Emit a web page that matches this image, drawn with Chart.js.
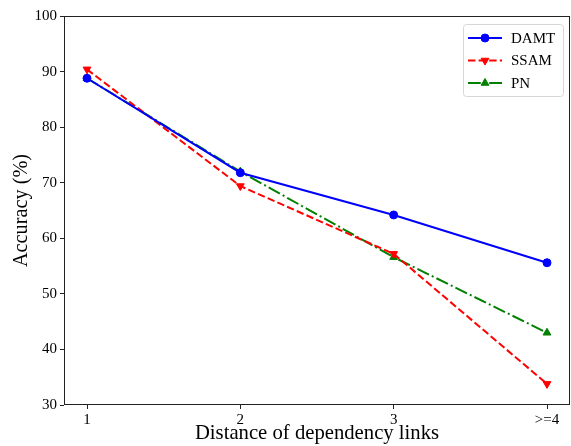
<!DOCTYPE html>
<html>
<head>
<meta charset="utf-8">
<script src="https://cdn.jsdelivr.net/npm/chart.js@4.4.0/dist/chart.umd.min.js"></script>
<style>
  html, body { margin: 0; padding: 0; background: #fff; }
  #wrap { width: 571px; height: 446px; }
</style>
</head>
<body>
<div id="wrap"><canvas id="accChart" width="571" height="446"></canvas></div>
<script>
// categorias e valores
const distLabels = ["1", "2", "3", ">=4"];
const damtAcc = [88.8, 71.8, 64.2, 55.6];
const ssamAcc = [90.4, 69.4, 57.2, 33.8];
const pnAcc = [88.8, 72.0, 56.6, 43.0];
const yTicks = [30, 40, 50, 60, 70, 80, 90, 100];

const serif = "'Liberation Serif', 'Times New Roman', serif";

function toPoints(arr) {
    return arr.map(function (v, i) { return { x: i, y: v }; });
}

// moldura e legenda no estilo matplotlib
const framePlugin = {
    id: "frame",
    afterDraw: function (chart) {
        const ctx = chart.ctx;
        const a = chart.chartArea;
        ctx.save();
        ctx.strokeStyle = "#222";
        ctx.lineWidth = 1;
        ctx.strokeRect(a.left + 0.5, a.top + 0.5, a.right - a.left - 1, a.bottom - a.top - 1);

        // legenda
        const bx = 463, by = 24, bw = 100, bh = 72;
        ctx.fillStyle = "rgba(255,255,255,0.8)";
        ctx.strokeStyle = "#d6d6d6";
        ctx.beginPath();
        ctx.roundRect(bx + 0.5, by + 0.5, bw, bh, 3);
        ctx.fill();
        ctx.stroke();
        chart.data.datasets.forEach(function (ds, i) {
            const y = by + 14 + i * 22.5;
            const x0 = bx + 5, x1 = bx + 39;
            ctx.strokeStyle = ds.borderColor;
            ctx.lineWidth = ds.borderWidth;
            ctx.setLineDash(ds.borderDash || []);
            ctx.beginPath();
            ctx.moveTo(x0, y);
            ctx.lineTo(x1, y);
            ctx.stroke();
            ctx.setLineDash([]);
            ctx.fillStyle = ds.backgroundColor;
            ctx.lineWidth = 1;
            Chart.helpers.drawPoint(ctx, {
                pointStyle: ds.pointStyle,
                radius: ds.pointRadius,
                rotation: ds.pointRotation || 0,
                borderWidth: 1
            }, (x0 + x1) / 2, y);
            ctx.fillStyle = "#000";
            ctx.font = "15px " + serif;
            ctx.textBaseline = "middle";
            ctx.textAlign = "left";
            ctx.fillText(ds.label, bx + 48, y + 1);
        });
        ctx.restore();
    }
};

new Chart(document.getElementById("accChart"), {
    type: "line",
    data: {
        datasets: [
            {
                label: "DAMT",
                data: toPoints(damtAcc),
                borderColor: "#0000ff",
                backgroundColor: "#0000ff",
                borderWidth: 2,
                pointStyle: "circle",
                pointRadius: 4,
                pointBorderWidth: 1
            },
            {
                label: "SSAM",
                data: toPoints(ssamAcc),
                borderColor: "#ff0000",
                backgroundColor: "#ff0000",
                borderWidth: 2,
                borderDash: [7.4, 3.2],
                pointStyle: "triangle",
                pointRotation: 180,
                pointRadius: 4.5,
                pointBorderWidth: 1
            },
            {
                label: "PN",
                data: toPoints(pnAcc),
                borderColor: "#008000",
                backgroundColor: "#008000",
                borderWidth: 2,
                borderDash: [12.8, 3.2, 2, 3.2],
                pointStyle: "triangle",
                pointRadius: 4.5,
                pointBorderWidth: 1
            }
        ]
    },
    options: {
        responsive: false,
        animation: false,
        layout: { autoPadding: false, padding: { top: 16, right: 1, left: 0, bottom: 0 } },
        plugins: {
            legend: { display: false },
            tooltip: { enabled: false }
        },
        scales: {
            x: {
                type: "linear",
                min: -0.15,
                max: 3.15,
                afterBuildTicks: function (axis) {
                    axis.ticks = distLabels.map(function (l, i) { return { value: i }; });
                },
                afterFit: function (axis) {
                    axis.height = 41;
                    axis.paddingLeft = 0;
                    axis.paddingRight = 0;
                },
                grid: { drawOnChartArea: false, tickLength: 4, tickColor: "#222" },
                border: { display: false },
                ticks: {
                    color: "#000",
                    padding: 2,
                    maxRotation: 0,
                    font: { family: serif, size: 15 },
                    callback: function (v) { return distLabels[v]; }
                },
                title: {
                    display: true,
                    text: "Distance of dependency links",
                    color: "#000",
                    padding: { top: 0, bottom: 0 },
                    font: { family: serif, size: 20.7 }
                }
            },
            y: {
                min: 30,
                max: 100,
                afterBuildTicks: function (axis) {
                    axis.ticks = yTicks.map(function (v) { return { value: v }; });
                },
                afterFit: function (axis) {
                    axis.width = 64;
                    axis.paddingTop = 0;
                    axis.paddingBottom = 0;
                },
                grid: { drawOnChartArea: false, tickLength: 4, tickColor: "#222" },
                border: { display: false },
                ticks: {
                    color: "#000",
                    padding: 3,
                    font: { family: serif, size: 15 }
                },
                title: {
                    display: true,
                    text: "Accuracy (%)",
                    color: "#000",
                    padding: { top: 9, bottom: 0 },
                    font: { family: serif, size: 20.3 }
                }
            }
        }
    },
    plugins: [framePlugin]
});
</script>
</body>
</html>
